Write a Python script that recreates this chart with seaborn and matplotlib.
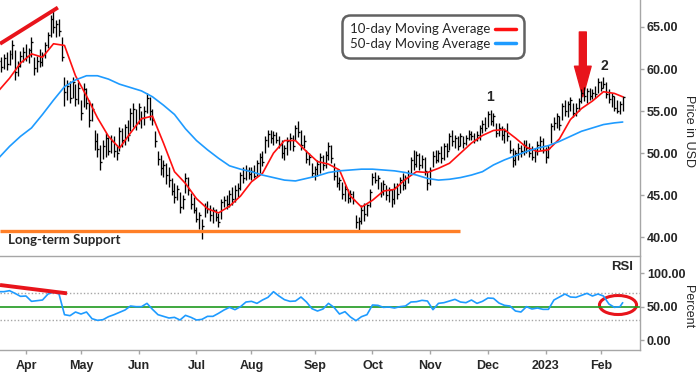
import numpy as np
import pandas as pd
import matplotlib
matplotlib.use("Agg")
import matplotlib.pyplot as plt
from matplotlib.patches import Ellipse, FancyArrowPatch, ArrowStyle
import seaborn as sns

# trading days, Mar 18 2022 .. Feb 13 2023 (exchange holidays removed)
holidays = ["2022-04-15", "2022-05-30", "2022-06-20", "2022-07-04", "2022-09-05",
            "2022-11-24", "2022-12-26", "2023-01-02", "2023-01-16"]
dates = pd.bdate_range("2022-03-18", "2023-02-13")
dates = dates[~dates.isin(pd.to_datetime(holidays))]

# daily bars (USD)
low = [59.8, 59.6, 60.0, 59.9, 60.5, 61.2, 58.7, 59.2, 60.2, 60.8,
       61.0, 60.7, 61.4, 59.3, 59.6, 60.2, 60.4, 61.3, 62.5, 63.8,
       64.3, 63.8, 63.9, 60.9, 55.6, 56.3, 56.0, 56.6, 55.6, 55.8,
       54.0, 55.5, 55.2, 53.1, 53.8, 50.4, 49.6, 48.0, 49.3, 49.5,
       49.8, 50.0, 49.5, 49.2, 50.2, 50.7, 51.0, 51.4, 52.6, 53.1,
       52.8, 53.5, 53.0, 53.4, 54.8, 54.0, 53.4, 50.7, 48.6, 47.4,
       47.2, 46.3, 46.0, 45.0, 44.1, 44.4, 42.9, 43.4, 45.3, 45.0,
       43.4, 42.9, 41.8, 41.0, 39.8, 42.4, 42.9, 42.0, 41.7, 42.0,
       41.2, 42.2, 43.6, 43.4, 43.6, 43.8, 44.2, 44.8, 45.6, 46.5,
       46.8, 46.9, 46.8, 47.0, 47.3, 47.6, 48.5, 50.0, 50.7, 51.2,
       51.0, 51.2, 50.6, 49.4, 49.2, 49.8, 50.4, 50.2, 51.6, 51.9,
       50.4, 50.6, 48.8, 48.6, 47.2, 46.8, 47.3, 47.6, 48.0, 48.2,
       49.2, 48.8, 46.8, 46.0, 45.6, 44.6, 44.3, 44.1, 44.2, 44.0,
       41.1, 40.6, 41.6, 42.0, 42.5, 43.6, 46.2, 46.4, 45.8, 44.8,
       45.0, 44.4, 44.2, 43.6, 44.0, 44.6, 45.3, 45.6, 45.8, 46.4,
       47.6, 48.0, 48.4, 48.0, 48.2, 47.4, 45.6, 46.2, 48.4, 48.8,
       49.0, 48.8, 49.2, 49.6, 50.4, 50.8, 50.6, 50.4, 50.8, 50.6,
       51.0, 51.6, 51.6, 51.2, 51.4, 51.6, 52.4, 52.6, 53.1, 53.4,
       53.2, 51.9, 52.0, 51.6, 51.2, 51.4, 50.0, 48.4, 48.6, 49.2,
       49.6, 49.8, 50.0, 49.6, 49.2, 49.0, 49.8, 50.4, 50.0, 48.8,
       49.4, 51.2, 52.7, 53.0, 52.8, 54.0, 54.4, 54.3, 55.0, 54.3,
       54.4, 55.0, 56.0, 56.2, 56.0, 56.3, 56.4, 56.6, 57.1, 57.4,
       57.8, 56.6, 56.0, 55.5, 55.0, 54.8, 54.6, 55.0]
high = [61.6, 61.4, 61.8, 62.0, 62.3, 63.5, 62.2, 61.0, 62.1, 62.6,
        63.0, 62.5, 63.8, 61.4, 61.6, 62.4, 62.0, 63.2, 64.4, 66.4,
        67.0, 65.8, 65.9, 63.8, 59.0, 58.7, 58.6, 59.0, 58.2, 58.4,
        56.3, 58.3, 57.8, 56.3, 56.0, 52.8, 52.4, 51.0, 51.6, 52.4,
        51.9, 52.2, 52.0, 51.0, 53.1, 53.0, 53.5, 53.9, 55.4, 56.0,
        55.2, 56.0, 55.0, 55.6, 57.1, 56.7, 55.2, 52.6, 50.2, 49.8,
        49.2, 48.8, 48.4, 47.0, 46.5, 46.2, 45.4, 45.0, 47.6, 47.2,
        45.3, 44.8, 43.6, 43.0, 42.2, 44.1, 44.3, 43.8, 43.6, 43.4,
        42.9, 44.6, 44.9, 45.0, 45.6, 46.0, 46.2, 46.4, 47.8, 48.4,
        48.6, 48.4, 48.3, 48.6, 49.2, 50.0, 50.3, 52.0, 52.7, 52.7,
        52.6, 52.5, 52.0, 51.6, 51.0, 51.9, 52.4, 52.2, 53.4, 53.8,
        52.7, 52.2, 50.4, 50.0, 48.8, 48.5, 49.2, 50.0, 49.8, 50.2,
        51.3, 51.0, 48.8, 48.0, 47.2, 46.6, 46.2, 45.8, 45.6, 45.5,
        42.6, 42.4, 43.8, 44.1, 44.0, 45.8, 47.6, 47.8, 47.4, 46.6,
        46.8, 46.2, 46.0, 45.8, 46.5, 46.4, 47.2, 47.6, 47.4, 48.0,
        49.6, 50.4, 50.2, 50.0, 49.8, 49.5, 47.8, 48.4, 50.2, 50.4,
        50.4, 50.8, 51.2, 51.2, 52.4, 52.7, 52.2, 52.0, 52.4, 52.0,
        52.2, 52.7, 52.6, 52.4, 52.6, 53.4, 54.0, 54.3, 55.0, 55.1,
        54.8, 53.6, 53.6, 53.2, 53.0, 53.6, 51.6, 50.6, 50.4, 51.2,
        51.0, 51.6, 51.6, 51.2, 50.8, 50.6, 51.4, 52.0, 51.8, 50.7,
        51.0, 53.6, 54.3, 54.8, 54.4, 56.0, 56.3, 56.2, 56.7, 56.0,
        56.0, 56.6, 57.6, 57.9, 57.8, 57.8, 57.6, 58.0, 58.9, 58.6,
        59.1, 58.4, 57.6, 57.2, 56.8, 56.3, 56.2, 56.8]
close = [61.0, 60.2, 61.3, 60.6, 61.8, 62.9, 59.6, 60.4, 61.6, 62.0,
         61.5, 62.2, 63.2, 60.1, 61.0, 60.8, 61.7, 62.9, 64.0, 65.9,
         65.0, 65.3, 64.5, 61.4, 57.3, 58.0, 56.6, 58.4, 56.4, 57.8,
         54.8, 57.6, 56.0, 54.0, 55.2, 51.5, 50.5, 49.0, 50.8, 51.8,
         50.3, 51.4, 50.2, 50.0, 52.6, 51.6, 53.1, 52.2, 54.8, 55.3,
         53.6, 55.5, 54.2, 55.0, 56.6, 55.0, 53.9, 51.4, 49.3, 48.2,
         48.6, 47.4, 46.8, 45.5, 44.8, 45.7, 43.6, 44.6, 47.0, 45.6,
         44.0, 43.3, 42.2, 42.6, 41.3, 43.6, 43.4, 42.7, 43.2, 42.4,
         41.8, 44.2, 44.4, 44.0, 45.2, 44.6, 45.6, 45.9, 47.4, 47.0,
         48.0, 47.5, 47.9, 47.3, 48.8, 49.5, 49.0, 51.6, 52.3, 51.8,
         52.2, 51.6, 51.0, 50.0, 50.6, 51.4, 51.8, 50.9, 53.0, 52.5,
         51.0, 51.5, 49.3, 49.5, 47.6, 48.1, 48.7, 49.6, 48.6, 49.8,
         50.9, 49.4, 47.3, 46.5, 46.8, 45.2, 45.8, 44.7, 45.2, 44.4,
         41.8, 42.0, 43.3, 42.8, 43.8, 45.4, 47.2, 46.8, 47.0, 45.4,
         46.3, 45.0, 45.6, 44.5, 46.0, 45.2, 46.8, 46.2, 47.0, 47.6,
         49.2, 48.7, 49.8, 48.6, 49.3, 47.9, 46.4, 48.0, 49.7, 49.2,
         50.0, 49.4, 50.8, 50.2, 52.0, 51.5, 51.8, 50.9, 52.0, 51.2,
         51.8, 52.3, 52.0, 51.6, 52.2, 53.0, 53.5, 53.0, 54.6, 53.8,
         54.4, 52.4, 53.0, 52.2, 52.6, 52.0, 50.4, 49.2, 50.0, 50.6,
         50.2, 51.0, 50.6, 50.0, 49.6, 50.2, 51.0, 51.5, 50.4, 49.6,
         50.6, 53.2, 53.6, 54.4, 53.4, 55.6, 55.0, 55.8, 56.3, 54.8,
         55.4, 56.2, 57.2, 56.8, 57.4, 56.8, 57.2, 57.0, 58.4, 57.8,
         58.2, 57.0, 56.4, 56.8, 55.4, 55.0, 55.8, 56.7]

# moving averages, read every 4th trading day (plus the last day)
ma_step = 4
ma10 = [57.4, 58.9, 60.7, 61.8, 61.4, 63.0, 62.8, 59.2, 56.8, 54.2,
        52.0, 50.6, 52.4, 54.1, 54.4, 51.2, 47.8, 46.4, 44.6, 43.4,
        42.9, 43.7, 44.9, 46.6, 47.6, 50.0, 51.5, 51.5, 50.2, 49.0,
        48.7, 48.0, 44.9, 43.6, 44.4, 45.5, 45.7, 46.9, 47.8, 47.7,
        48.2, 48.8, 50.0, 51.2, 52.1, 52.7, 52.8, 51.8, 50.7, 50.2,
        50.4, 51.7, 54.0, 55.3, 56.2, 57.3, 57.1, 56.7]
ma50 = [49.4, 50.8, 52.0, 53.0, 54.6, 56.3, 57.9, 58.7, 59.2, 59.2,
        58.8, 58.2, 57.8, 57.4, 56.7, 55.7, 54.6, 52.9, 51.5, 50.4,
        49.4, 48.5, 48.1, 47.8, 47.4, 47.1, 46.8, 46.7, 47.0, 47.3,
        47.7, 47.9, 48.0, 48.1, 48.1, 48.0, 47.9, 47.7, 47.4, 47.0,
        46.8, 46.9, 47.1, 47.4, 47.8, 48.6, 49.2, 49.7, 50.2, 50.6,
        50.9, 51.4, 52.0, 52.6, 53.0, 53.4, 53.6, 53.7]

# RSI (percent), read every 2nd trading day (plus the last day)
rsi_step = 2
rsi = [72.5, 72.5, 74, 70, 65.5, 66, 58, 59, 60, 69,
       72, 69, 38, 36.5, 42, 39, 42, 32, 29.5, 30.5,
       35, 38, 41.5, 45, 51, 50, 50, 55, 46, 38,
       35.5, 33, 34, 30, 37, 34, 30, 31, 35.5, 35.5,
       40, 45, 49, 45.5, 50, 57, 58, 55, 60, 64,
       72.5, 66, 60.5, 58, 58.5, 64.5, 57, 47, 43.5, 46.5,
       55, 49, 39, 42.5, 34.5, 29, 35, 38, 52.5, 52,
       49, 49.5, 48, 50, 51, 57, 57.5, 59.5, 58.5, 45.5,
       55, 56, 58.5, 61, 57, 56, 60, 55, 58, 63,
       62.5, 55.5, 52, 51, 43.5, 42, 50, 46.5, 48, 46,
       46, 60, 64.5, 69, 64.5, 64, 67, 70, 66, 69,
       66, 54, 49, 50, 56]

# annotations
support_level = 40.8
support_end_day = 167.8
price_trend_days = [0.55, 21.6]
price_trend = [63.0, 67.3]
rsi_trend_days = [0.55, 24.9]
rsi_trend = [82.5, 70.0]

RED = "#e8141b"
BLUE = "#1e9bff"
GREY = "#a6a6a6"

n = len(dates)
days = np.arange(n)
ma_days = list(range(0, n - 1, ma_step)) + [n - 1]
rsi_days = list(range(0, n - 1, rsi_step)) + [n - 1]

sns.set_theme(style="white")
plt.rcParams["font.family"] = ["Liberation Sans", "DejaVu Sans"]

fig = plt.figure(figsize=(7, 3.72), dpi=100)
ax = fig.add_axes([0, 0.3145, 0.9143, 0.6855])
ax_rsi = fig.add_axes([0, 0.0591, 0.9143, 0.2527])
xlim = (0.545, 233.3)

# --- price panel
ax.vlines(days, low, high, color="black", lw=0.95)
ax.hlines(close, days, days + 0.7, color="black", lw=0.95)
sns.lineplot(x=ma_days, y=ma10, ax=ax, color="#ff1010", lw=1.2, label="10-day Moving Average")
sns.lineplot(x=ma_days, y=ma50, ax=ax, color=BLUE, lw=1.2, label="50-day Moving Average")
ax.plot(price_trend_days, price_trend, color=RED, lw=2.8, solid_capstyle="butt")
ax.hlines(support_level, xlim[0], support_end_day, color="#ff7f27", lw=2.4)

leg = ax.legend(loc="upper left", bbox_to_anchor=(0.539, 0.929), borderaxespad=0,
                markerfirst=False, prop={"family": "Lato", "size": 9.5},
                handlelength=1.6, handletextpad=0.3, labelspacing=0.2, borderpad=0.4,
                frameon=True, fancybox=True)
leg.get_frame().set_edgecolor("#3a3a3a")
leg.get_frame().set_linewidth(1.8)
leg.get_frame().set_boxstyle("round,pad=0.2,rounding_size=0.6")
for line in leg.get_lines():
    line.set_linewidth(2.5)

ax.text(3.5, 39.7, "Long-term Support", fontsize=9.5, fontweight="bold",
        family="Lato", ha="left", va="center")
ax.text(178.7, 56.7, "1", fontsize=10, fontweight="bold", ha="center", va="center")
ax.text(220.2, 60.4, "2", fontsize=10, fontweight="bold", ha="center", va="center")
arrow = FancyArrowPatch((212.5, 64.4), (212.5, 56.7), mutation_scale=1,
                        arrowstyle=ArrowStyle.Simple(head_length=22, head_width=12, tail_width=5),
                        color=RED, shrinkA=0, shrinkB=0)
ax.add_patch(arrow)

ax.set_xlim(*xlim)
ax.set_ylim(37.9, 68.2)
ax.set_xticks([])
ax.yaxis.tick_right()
ax.set_yticks([40, 45, 50, 55, 60, 65])
ax.set_yticklabels([f"{v:.2f}" for v in [40, 45, 50, 55, 60, 65]], fontweight="bold")
ax.tick_params(axis="y", right=True, length=3, width=1, color=GREY, labelsize=9, pad=2)
for side in ["top", "left", "bottom"]:
    ax.spines[side].set_visible(False)
ax.spines["right"].set_color(GREY)
ax.spines["right"].set_linewidth(1)
ax.set_xlabel("")
ax.set_ylabel("")

# --- RSI panel
ax_rsi.axhline(70, color=GREY, lw=1, ls=(0, (1, 1.5)))
ax_rsi.axhline(30, color=GREY, lw=1, ls=(0, (1, 1.5)))
ax_rsi.axhline(50, color="#1f9a1f", lw=1.2)
sns.lineplot(x=rsi_days, y=rsi, ax=ax_rsi, color=BLUE, lw=1.2)
ax_rsi.plot(rsi_trend_days, rsi_trend, color=RED, lw=2.8, solid_capstyle="butt")
ax_rsi.add_patch(Ellipse((225.3, 52.5), width=13.5, height=28.5, fill=False,
                         edgecolor=RED, lw=2.2))
ax_rsi.text(226.7, 109.5, "RSI", fontsize=9.5, fontweight="bold", ha="center", va="center")

ax_rsi.set_xlim(*xlim)
ax_rsi.set_ylim(-15, 126)
ax_rsi.yaxis.tick_right()
ax_rsi.set_yticks([0, 50, 100])
ax_rsi.set_yticklabels(["0.00", "50.00", "100.00"], fontweight="bold")
month_pos = [i for i in range(1, n) if dates[i].month != dates[i - 1].month]
month_lab = [str(dates[i].year) if dates[i].month == 1 else dates[i].strftime("%b")
             for i in month_pos]
ax_rsi.set_xticks(month_pos)
ax_rsi.set_xticklabels(month_lab, fontweight="bold")
ax_rsi.tick_params(axis="both", length=3, width=1, color=GREY, labelsize=9, pad=2)
ax_rsi.tick_params(axis="x", bottom=True, pad=4)
ax_rsi.tick_params(axis="y", right=True)
ax_rsi.spines["left"].set_visible(False)
for side in ["top", "right", "bottom"]:
    ax_rsi.spines[side].set_color(GREY)
    ax_rsi.spines[side].set_linewidth(1)
ax_rsi.set_xlabel("")
ax_rsi.set_ylabel("")

fig.text(689 / 700, 1 - 131 / 372, "Price in USD", rotation=270, ha="center", va="center", fontsize=9)
fig.text(688 / 700, 1 - 307 / 372, "Percent", rotation=270, ha="center", va="center", fontsize=9)

fig.savefig("out.png", dpi=100)
